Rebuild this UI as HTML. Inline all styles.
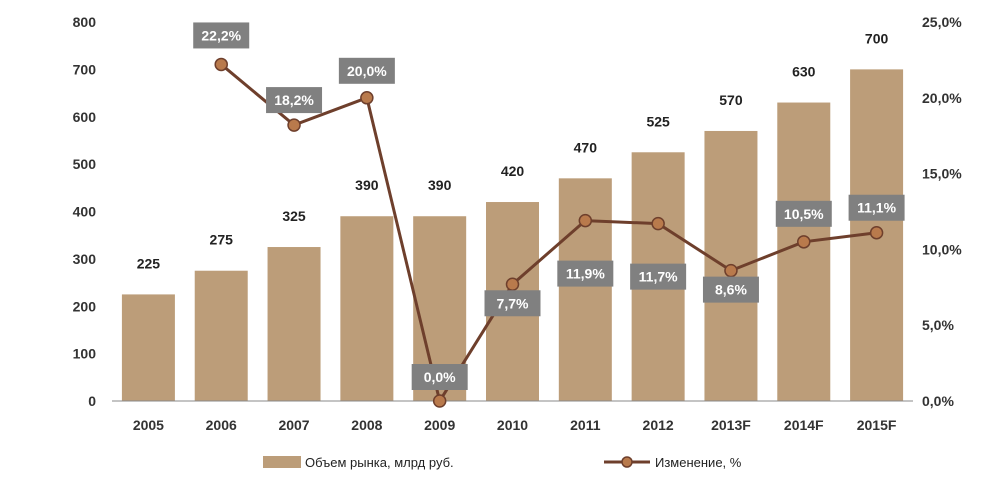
<!DOCTYPE html>
<html><head><meta charset="utf-8"><style>
body{margin:0;background:#fff;}
svg{display:block;font-family:"Liberation Sans",sans-serif;}
</style></head><body>
<svg id="c" width="1003" height="478"></svg>
<script>
const categories=["2005","2006","2007","2008","2009","2010","2011","2012","2013F","2014F","2015F"];
const volumes=[225,275,325,390,390,420,470,525,570,630,700];
const changes=[null,22.2,18.2,20.0,0.0,7.7,11.9,11.7,8.6,10.5,11.1];
const leftTicks=[0,100,200,300,400,500,600,700,800];
const rightTicks=[0,5,10,15,20,25];
const labelOffset=[0,-42,-38,-40,-37,6,40,40,6,-41,-38];

const NS="http://www.w3.org/2000/svg";
const svg=document.getElementById('c');
const X0=112,X1=913,Y0=401,Y1=22;
const band=(X1-X0)/categories.length;
const xc=i=>X0+band*(i+0.5);
const yL=v=>Y0-(v/800)*(Y0-Y1);
const yR=v=>Y0-(v/25)*(Y0-Y1);
function el(t,a,txt){const e=document.createElementNS(NS,t);for(const k in a)e.setAttribute(k,a[k]);if(txt!=null)e.textContent=txt;svg.appendChild(e);return e;}

leftTicks.forEach(v=>{
 const t=el('text',{x:96,y:yL(v)+5,'text-anchor':'end','font-size':14,'font-weight':'bold',fill:'#333'},String(v));
 
 
});
rightTicks.forEach(v=>{
 const t=el('text',{x:922,y:yR(v)+5,'font-size':14,'font-weight':'bold',fill:'#333'},v.toFixed(1).replace('.',',')+'%');
 
 
});
const bw=53;
categories.forEach((c,i)=>{
 const r=el('rect',{x:xc(i)-bw/2,y:yL(volumes[i]),width:bw,height:Y0-yL(volumes[i]),fill:'#bc9d79'});
 
 
 const v=el('text',{x:xc(i),y:yL(volumes[i])-26,'text-anchor':'middle','font-size':14,'font-weight':'bold',fill:'#222'},String(volumes[i]));
 
 
 const t=el('text',{x:xc(i),y:430,'text-anchor':'middle','font-size':14,'font-weight':'bold',fill:'#333'},c);
 
 
});
const ax=el('line',{x1:X0,y1:Y0,x2:X1,y2:Y0,stroke:'#888','stroke-width':1});


let pts=[];
changes.forEach((v,i)=>{if(v!=null)pts.push([xc(i),yR(v)]);});
const pl=el('polyline',{points:pts.map(p=>p.join(',')).join(' '),fill:'none',stroke:'#6e3f2c','stroke-width':3});


changes.forEach((v,i)=>{
 if(v==null)return;
 const cx=xc(i),cy=yR(v);
 const m=el('circle',{cx:cx,cy:cy,r:6,fill:'#b97a4c',stroke:'#6e3f2c','stroke-width':1.5});
 
 
});
changes.forEach((v,i)=>{
 if(v==null)return;
 const cx=xc(i),cy=yR(v);
 const by=cy+labelOffset[i];
 const b=el('rect',{x:cx-28,y:by,width:56,height:26,fill:'#808080'});
 
 
 const t=el('text',{x:cx,y:by+18,'text-anchor':'middle','font-size':14,'font-weight':'bold',fill:'#fff'},v.toFixed(1).replace('.',',')+'%');
 
 
});
const lr=el('rect',{x:263,y:456,width:38,height:12,fill:'#bc9d79'});


const lt=el('text',{x:305,y:467,'font-size':13,fill:'#222'},'Объем рынка, млрд руб.');


const ll=el('line',{x1:604,y1:462,x2:650,y2:462,stroke:'#6e3f2c','stroke-width':3});


const lc=el('circle',{cx:627,cy:462,r:5,fill:'#b97a4c',stroke:'#6e3f2c','stroke-width':1.5});


const lt2=el('text',{x:655,y:467,'font-size':13,fill:'#222'},'Изменение, %');


</script>
</body></html>
